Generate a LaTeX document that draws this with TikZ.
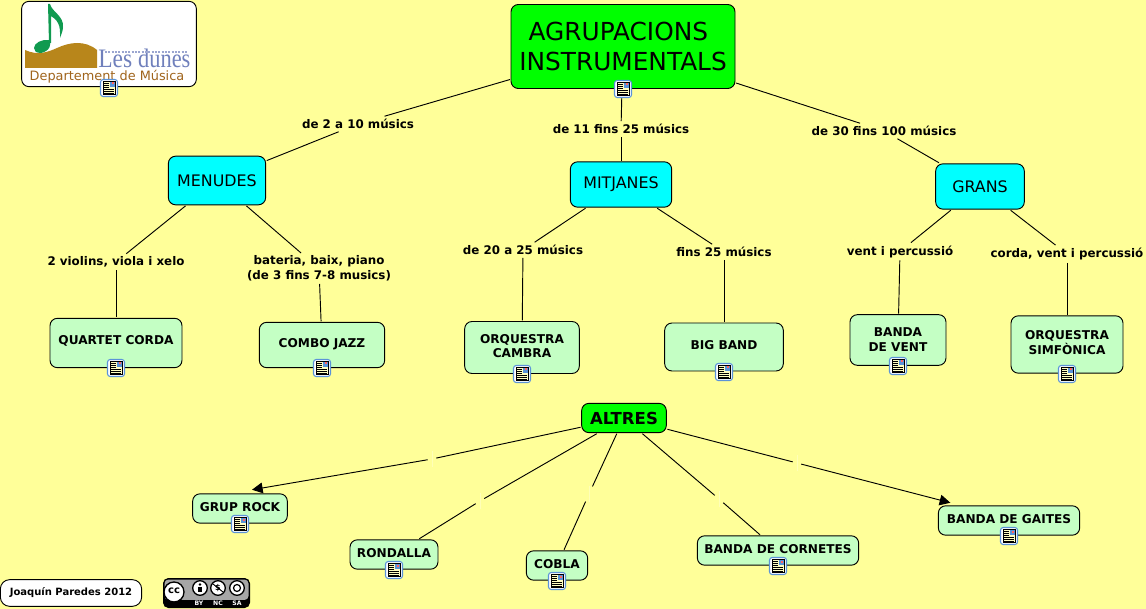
\documentclass[tikz,border=0pt]{standalone}
\usepackage{fontspec}
\usepackage{graphicx}
\setmainfont{DejaVu Sans}
\newfontfamily\lessans{Liberation Serif}
\usetikzlibrary{arrows.meta}
\definecolor{bgy}{HTML}{FFFF99}
\definecolor{mintc}{HTML}{C4FFC4}
\definecolor{cyanc}{HTML}{00FFFF}
\definecolor{greenc}{HTML}{00FF00}
\definecolor{goldc}{HTML}{B8861B}
\definecolor{notec}{HTML}{109A50}
\definecolor{lesc}{HTML}{7080BC}
\definecolor{brownc}{HTML}{A0641C}
\definecolor{framec}{HTML}{5B93D8}
\tikzset{
  x=0.75pt,y=-0.75pt,
  concept/.style={draw=black,line width=0.7pt,rounded corners=5.5pt,align=center,inner sep=0pt,outer sep=0.8pt},
  leaf/.style={concept,fill=mintc,font=\bfseries\fontsize{9.1pt}{10.9pt}\selectfont},
  mid/.style={concept,fill=cyanc,font=\fontsize{11.9pt}{14pt}\selectfont},
  lab/.style={fill=bgy,inner xsep=1pt,inner ysep=2pt,align=center,font=\bfseries\fontsize{8.9pt}{10.9pt}\selectfont},
  blank/.style={fill=bgy,minimum width=6pt,minimum height=11pt,inner sep=0pt},
  link/.style={line width=0.7pt,draw=black},
  tip/.style={link,-{Triangle[length=8pt,width=8pt]}},
}
\newcommand{\docicon}[2]{%
 \begin{scope}[shift={(#1,#2)}]
  \fill[white,draw=framec,line width=0.8pt,rounded corners=2pt] (-8.5,-8.5) rectangle (8.5,8.5);
  \fill[bgy!60!white,draw=black,line width=0.7pt] (-6,-6.5) rectangle (6,6.5);
  \fill[framec] (0.5,-6) rectangle (5.5,-1);
  \fill[red!60] (2.5,-5.5) rectangle (4.5,-3.5);
  \foreach \yy in {-4.5,-2.5,-0.5} \draw[black,line width=0.55pt] (-5,\yy) -- (-0.5,\yy);
  \foreach \yy in {1.5,3.3,5} \draw[black,line width=0.55pt] (-5,\yy) -- (5,\yy);
 \end{scope}}
\newcommand{\blankmark}[1]{\draw[white!30!bgy,line width=0.6pt] (#1.north) -- (#1.south);}
\begin{document}
\begin{tikzpicture}
\useasboundingbox (0,0) rectangle (1146,609);
\fill[bgy] (0,0) rectangle (1146,609);

% main nodes
\node[concept,fill=greenc,minimum width=168pt,minimum height=63pt,font=\fontsize{18.6pt}{22.5pt}\selectfont] (top) at (623,46.5) {\raisebox{8.2pt}{\parbox{165pt}{\centering\hspace*{-7pt}AGRUPACIONS\\INSTRUMENTALS}}};
\node[mid,minimum width=73pt,minimum height=36.5pt] (men) at (217,180.5) {MENUDES};
\node[mid,minimum width=76pt,minimum height=34pt] (mit) at (621,184.5) {MITJANES};
\node[mid,minimum width=66.5pt,minimum height=34pt] (gra) at (980,186.5) {GRANS};
\node[leaf,minimum width=99pt,minimum height=37pt] (qua) at (116,343) {\raisebox{4.5pt}{QUARTET CORDA}};
\node[leaf,minimum width=94pt,minimum height=34pt] (com) at (322,345) {\raisebox{3.75pt}{COMBO JAZZ}};
\node[leaf,minimum width=86pt,minimum height=39pt] (orq) at (522,347.5) {\raisebox{8.8pt}{\parbox{75pt}{\centering ORQUESTRA\\CAMBRA}}};
\node[leaf,minimum width=89pt,minimum height=36pt] (big) at (724,347) {\raisebox{3.75pt}{BIG BAND}};
\node[leaf,minimum width=72pt,minimum height=38pt] (ban) at (898,340) {\raisebox{7.1pt}{\parbox{55pt}{\centering BANDA\\DE VENT}}};
\node[leaf,minimum width=84pt,minimum height=43pt] (sim) at (1067,344.5) {\raisebox{9.5pt}{\parbox{75pt}{\centering ORQUESTRA\\SIMFÒNICA}}};
\node[concept,fill=greenc,minimum width=63.5pt,minimum height=22pt,font=\bfseries\fontsize{12.4pt}{14pt}\selectfont] (alt) at (624,418) {ALTRES};
\node[leaf,minimum width=71pt,minimum height=22pt] (roc) at (240,508.5) {\raisebox{2pt}{GRUP ROCK}};
\node[leaf,minimum width=66pt,minimum height=22pt] (ron) at (394,554.5) {\raisebox{2.75pt}{RONDALLA}};
\node[leaf,minimum width=46pt,minimum height=22pt] (cob) at (557,565.5) {\raisebox{2pt}{COBLA}};
\node[leaf,minimum width=121pt,minimum height=22pt] (cor) at (778,550.5) {\raisebox{2.75pt}{BANDA DE CORNETES}};
\node[leaf,minimum width=106pt,minimum height=22pt] (gai) at (1009,520.5) {\raisebox{2.4pt}{BANDA DE GAITES}};

% labels
\node[lab] (l1) at (358,124) {de 2 a 10 músics};
\node[lab] (l2) at (621,129) {de 11 fins 25 músics};
\node[lab] (l3) at (884,131) {de 30 fins 100 músics};
\node[lab] (l4) at (116,262) {2 violins, viola i xelo};
\node[lab] (l5) at (319,268.5) {bateria, baix, piano\\(de 3 fins 7-8 musics)};
\node[lab] (l6) at (523,250) {de 20 a 25 músics};
\node[lab] (l7) at (724,252) {fins 25 músics};
\node[lab] (l8) at (900,251.5) {vent i percussió};
\node[lab] (l9) at (1067,254) {corda, vent i percussió};
\node[blank] (b1) at (432,459) {};
\node[blank] (b2) at (480,501) {};
\node[blank] (b3) at (589,494) {};
\node[blank] (b4) at (719,499) {};
\node[blank] (b5) at (797,463) {};

% connectors
\draw[link] (top) -- (l1); \draw[link] (l1) -- (men);
\draw[link] (top) -- (l2); \draw[link] (l2) -- (mit);
\draw[link] (top) -- (l3); \draw[link] (l3) -- (gra);
\draw[link] (men) -- (l4); \draw[link] (l4) -- (qua);
\draw[link] (men) -- (l5); \draw[link] (l5) -- (com);
\draw[link] (mit) -- (l6); \draw[link] (l6) -- (orq);
\draw[link] (mit) -- (l7); \draw[link] (l7) -- (big);
\draw[link] (gra) -- (l8); \draw[link] (l8) -- (ban);
\draw[link] (gra) -- (l9); \draw[link] (l9) -- (sim);
\draw[link] (alt) -- (b1); \draw[tip] (b1) -- ([xshift=9pt,yshift=2.25pt]roc.north);
\draw[link] (alt) -- (b2); \draw[link] (b2) -- (ron);
\draw[link] (alt) -- (b3); \draw[link] (b3) -- (cob);
\draw[link] (alt) -- (b4); \draw[link] (b4) -- (cor);
\draw[link] (alt) -- (b5); \draw[tip] (b5) -- ([xshift=-44pt,yshift=1.5pt]gai.north);
\foreach \b in {b1,b2,b3,b4,b5} {\blankmark{\b}}

% logo
\node[concept,fill=white,minimum width=131pt,minimum height=64pt] (logo) at (109,44) {};
\fill[goldc] (25,50) .. controls (38,56) and (48,52) .. (57,48) .. controls (70,42) and (85,40) .. (97,50) -- (97,68) -- (25,68) -- cycle;
\fill[notec] (34,48) .. controls (34,43) and (42,39) .. (49,40) .. controls (52,44) and (50,51) .. (41,53) .. controls (36,53) and (34,51) .. (34,48) -- cycle;
\fill[notec] (48,4) -- (50,4) .. controls (52,12) and (64,16) .. (63,27) .. controls (63,31) and (61,35) .. (60,38) .. controls (60,30) and (61,22) .. (51,16) -- (51,43) -- (49,43) -- cycle;
\node[anchor=base west,font=\lessans\fontsize{20pt}{20pt}\selectfont,text=lesc,inner sep=0pt] (les) at (98,68) {\scalebox{0.88}[1]{Les}\hspace{4.5pt}\scalebox{0.84}[1]{dunes}};
\draw[lesc!70!white,line width=1.1pt,dash pattern=on 1.5pt off 1pt] (105,52) -- (187,52);
\node[font=\fontsize{9.65pt}{11pt}\selectfont,text=brownc,inner sep=0pt] (dep) at (107,77) {Departement de Música};

% icons
\docicon{109}{88}
\docicon{623}{89}
\docicon{116}{368}
\docicon{322}{368}
\docicon{522}{374}
\docicon{724}{372}
\docicon{898}{366}
\docicon{1067}{374}
\docicon{240}{524}
\docicon{394}{570}
\docicon{557}{581}
\docicon{778}{566}
\docicon{1009}{536}

% footer
\node[concept,fill=white,rounded corners=7pt,minimum width=106pt,minimum height=20pt,font=\bfseries\fontsize{7.5pt}{9pt}\selectfont] (aut) at (71,593) {Joaquín Paredes 2012};
\fill[black,rounded corners=4pt] (163,578) rectangle (250,608);
\fill[black!35,rounded corners=3pt] (164.5,579.5) rectangle (248.5,600);
\fill[black] (164.5,600) rectangle (248.5,601);
\foreach \cx/\cy/\r in {174/592/10,200/588/7.3,218/588/7.3,237/588/7.3} {\fill[white,draw=black,line width=1pt] (\cx,\cy) circle (\r);}
\node[font=\bfseries\fontsize{7.5pt}{7.5pt}\selectfont,inner sep=0pt] (cc) at (174,591) {cc};
\fill[black] (200,584.5) circle (1.4); \fill[black] (198,586.5) rectangle (202,592);
\node[font=\bfseries\fontsize{6pt}{6pt}\selectfont,inner sep=0pt] (ncs) at (218,588) {\$};
\draw[black,line width=0.7pt] (213,584) -- (223,592);
\draw[black,line width=0.9pt] (237,588) circle (3.5);
\node[font=\bfseries\fontsize{4.6pt}{4.6pt}\selectfont,text=white,inner sep=0pt] (by) at (199,603.5) {BY};
\node[font=\bfseries\fontsize{4.6pt}{4.6pt}\selectfont,text=white,inner sep=0pt] (nc) at (218,603.5) {NC};
\node[font=\bfseries\fontsize{4.6pt}{4.6pt}\selectfont,text=white,inner sep=0pt] (sa) at (237,603.5) {SA};
\end{tikzpicture}
\end{document}
